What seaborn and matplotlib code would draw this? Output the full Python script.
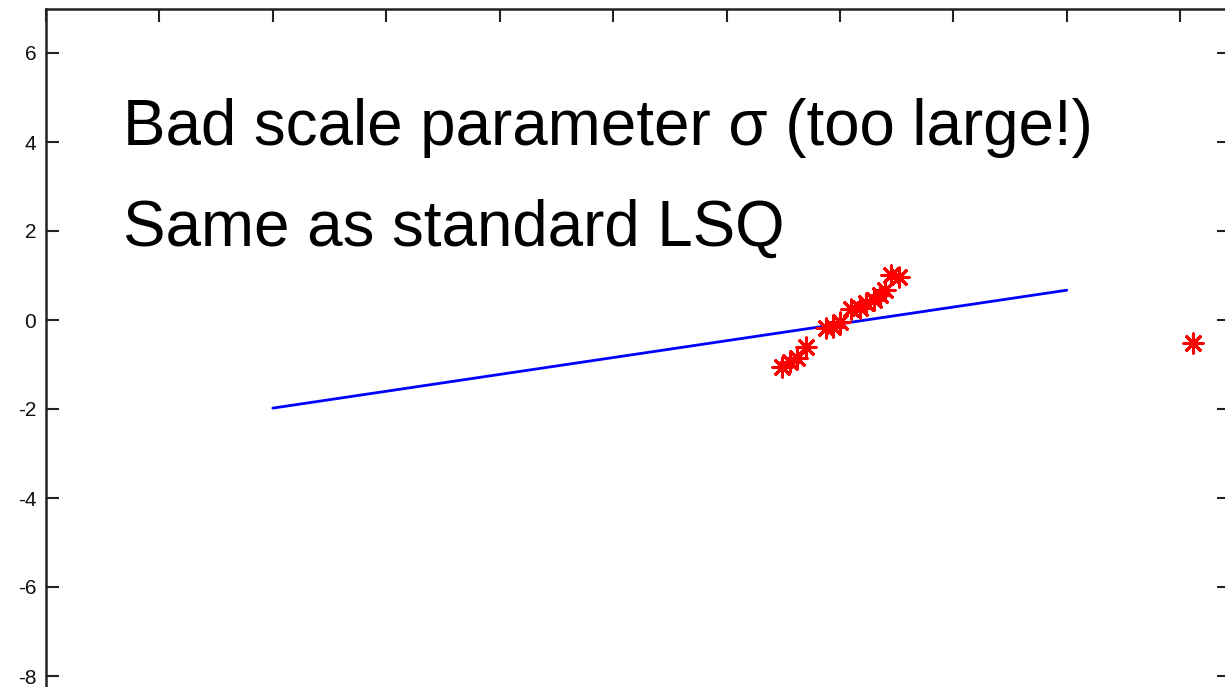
import matplotlib
matplotlib.use("Agg")
import matplotlib.pyplot as plt
import seaborn as sns
import pandas as pd

# Data
fit_x = [2.0, 9.0]
fit_y = [-1.98, 0.67]

pts_x = [6.49, 6.56, 6.62, 6.70, 6.88, 6.94, 7.00, 7.10, 7.18, 7.23, 7.30, 7.35, 7.40, 7.45, 7.52, 10.11]
pts_y = [-1.06, -0.94, -0.85, -0.61, -0.18, -0.16, -0.04, 0.25, 0.27, 0.38, 0.45, 0.56, 0.67, 1.01, 0.97, -0.52]

y_ticks = [-8, -6, -4, -2, 0, 2, 4, 6]
x_ticks = [0, 1, 2, 3, 4, 5, 6, 7, 8, 9, 10]

line1 = "Bad scale parameter σ (too large!)"
line2 = "Same as standard LSQ"

sns.set_style("white")
plt.rcParams['font.family'] = ['Liberation Sans', 'DejaVu Sans']

fig = plt.figure(figsize=(12.25, 6.87), dpi=100)
ax = fig.add_axes([46/1225, 1 - 765/687, 1183/1225, 756.5/687])

fit_df = pd.DataFrame({"x": fit_x, "y": fit_y})
pts_df = pd.DataFrame({"x": pts_x, "y": pts_y})

sns.lineplot(data=fit_df, x="x", y="y", ax=ax, color=(0, 0, 1), linewidth=2.0)
sns.scatterplot(data=pts_df, x="x", y="y", ax=ax, marker=(8, 2, 0), color=(1, 0, 0),
                s=190, linewidth=2.2, zorder=3)

ax.set_xlim(0, 10.43)
ax.set_ylim(-10, 7)
ax.set_xticks(x_ticks)
ax.set_xticklabels([])
ax.set_yticks(y_ticks)
ax.set_yticklabels([str(v) for v in y_ticks])
ax.set_xlabel("")
ax.set_ylabel("")

ax.tick_params(direction="in", length=9, width=1.5, color="#222222",
               top=True, bottom=True, left=True, right=True,
               labelsize=15, pad=7, labelcolor="#111111")
for sp in ax.spines.values():
    sp.set_visible(True)
    sp.set_linewidth(1.8)
    sp.set_color("#222222")

ax.text(0.679, 3.93, line1, fontsize=45.8, va="baseline", ha="left", color="black")
ax.text(0.679, 1.66, line2, fontsize=45.8, va="baseline", ha="left", color="black")

fig.savefig("out.png", dpi=100)
